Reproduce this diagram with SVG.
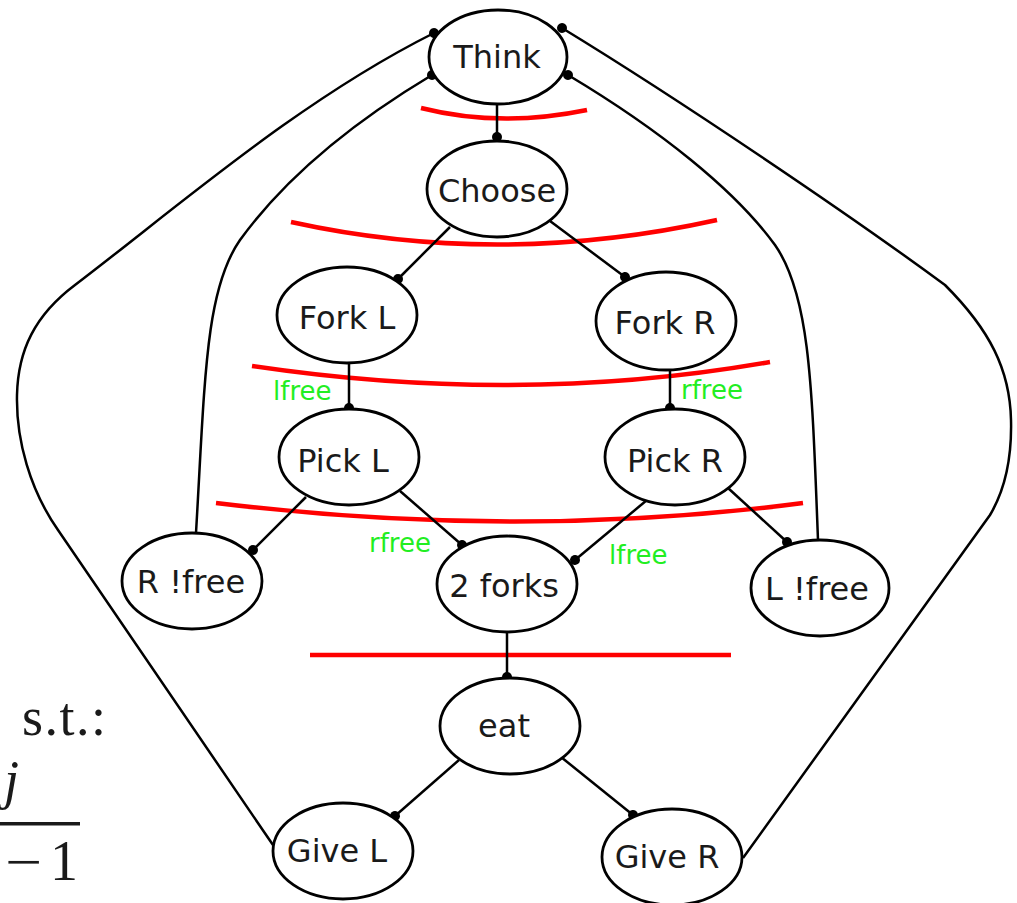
<svg xmlns="http://www.w3.org/2000/svg" width="1017" height="903" viewBox="0 0 1017 903">
<defs>
<style>
.n ellipse{fill:#fff;stroke:#000;stroke-width:2.8}
.n text{font-family:"DejaVu Sans",sans-serif;font-size:32px;fill:#1a1a1a;text-anchor:middle}
.e path{fill:none;stroke:#000;stroke-width:2.5}
.cut{fill:none;stroke:#ff0000;stroke-width:4.5}
.g{font-family:"DejaVu Sans",sans-serif;font-size:26px;fill:#22ee22}
.m{font-family:"Liberation Serif",serif;fill:#1a1a1a}
</style>
<marker id="dot" markerUnits="userSpaceOnUse" markerWidth="12" markerHeight="12" refX="6" refY="6" orient="auto">
<circle cx="6" cy="6" r="5" fill="#000"/>
</marker>
</defs>
<rect width="1017" height="903" fill="#fff"/>

<g id="cuts">
<path class="cut" d="M421,108 Q500,128 587,110"/>
<path class="cut" d="M291,222 Q500,268 717,220"/>
<path class="cut" d="M252,366 Q520,406 770,362"/>
<path class="cut" d="M216,503 Q520,540 803,503"/>
<path class="cut" d="M310,655 L731,655"/>
</g>

<g class="e" id="connectors">
<path d="M497,104 L497,137" marker-end="url(#dot)"/>
<path d="M450,227 L398,279" marker-end="url(#dot)"/>
<path d="M550,221 L625,277" marker-end="url(#dot)"/>
<path d="M349,363 L349,408" marker-end="url(#dot)"/>
<path d="M670,370 L670,408" marker-end="url(#dot)"/>
<path d="M306,497 L253,550" marker-end="url(#dot)"/>
<path d="M400,491 L462,545" marker-end="url(#dot)"/>
<path d="M647,500 L575,560" marker-end="url(#dot)"/>
<path d="M728,488 L787,542" marker-end="url(#dot)"/>
<path d="M507,632 L507,677" marker-end="url(#dot)"/>
<path d="M459,760 L395,816" marker-end="url(#dot)"/>
<path d="M561,757 L633,815" marker-end="url(#dot)"/>
<path d="M196,533 C205,380 205,290 240,240 C280,185 340,130 432,75" marker-end="url(#dot)"/>
<path d="M818,540 C812,385 810,295 775,245 C735,190 660,130 568,75" marker-end="url(#dot)"/>
<path d="M273,845 L58,530 C30,490 16,440 17,395 C18,350 35,315 75,285 C180,205 300,100 434,33" marker-end="url(#dot)"/>
<path d="M743,858 L990,515 C1005,490 1012,460 1011,420 C1010,370 990,330 945,285 C850,215 680,100 562,28" marker-end="url(#dot)"/>
</g>

<g class="n" id="think"><ellipse cx="498" cy="57" rx="69" ry="47"/><text x="497" y="68">Think</text></g>
<g class="n" id="choose"><ellipse cx="497" cy="189" rx="70" ry="48"/><text x="497" y="202">Choose</text></g>
<g class="n" id="forkL"><ellipse cx="347" cy="315" rx="70" ry="48"/><text x="347" y="329">Fork L</text></g>
<g class="n" id="forkR"><ellipse cx="666" cy="321" rx="70" ry="49"/><text x="665" y="334">Fork R</text></g>
<g class="n" id="pickL"><ellipse cx="349" cy="457" rx="70" ry="48"/><text x="343" y="472">Pick L</text></g>
<g class="n" id="pickR"><ellipse cx="675" cy="457" rx="70" ry="48"/><text x="675" y="472">Pick R</text></g>
<g class="n" id="rnotfree"><ellipse cx="192" cy="581" rx="70" ry="48"/><text x="191" y="593">R !free</text></g>
<g class="n" id="twoforks"><ellipse cx="507" cy="584" rx="70" ry="48"/><text x="504" y="597">2 forks</text></g>
<g class="n" id="lnotfree"><ellipse cx="820" cy="588" rx="69" ry="48"/><text x="817" y="600">L !free</text></g>
<g class="n" id="eat"><ellipse cx="510" cy="726" rx="70" ry="48"/><text x="504" y="737">eat</text></g>
<g class="n" id="giveL"><ellipse cx="343" cy="851" rx="70" ry="48"/><text x="337" y="862">Give L</text></g>
<g class="n" id="giveR"><ellipse cx="672" cy="857" rx="70" ry="48"/><text x="667" y="868">Give R</text></g>

<g id="labels">
<text class="g" x="273" y="400">lfree</text>
<text class="g" x="681" y="399">rfree</text>
<text class="g" x="369" y="552">rfree</text>
<text class="g" x="609" y="564">lfree</text>
</g>

<g id="math">
<text class="m" x="22" y="735" font-size="54" letter-spacing="1.5">s.t.:</text>
<text class="m" x="4" y="798" font-size="54" font-style="italic">j</text>
<rect x="0" y="822" width="80" height="3.5" fill="#1a1a1a"/>
<text class="m" x="5" y="880" font-size="54" textLength="37" lengthAdjust="spacingAndGlyphs">−</text>
<text class="m" x="50" y="880" font-size="56">1</text>
</g>
</svg>
